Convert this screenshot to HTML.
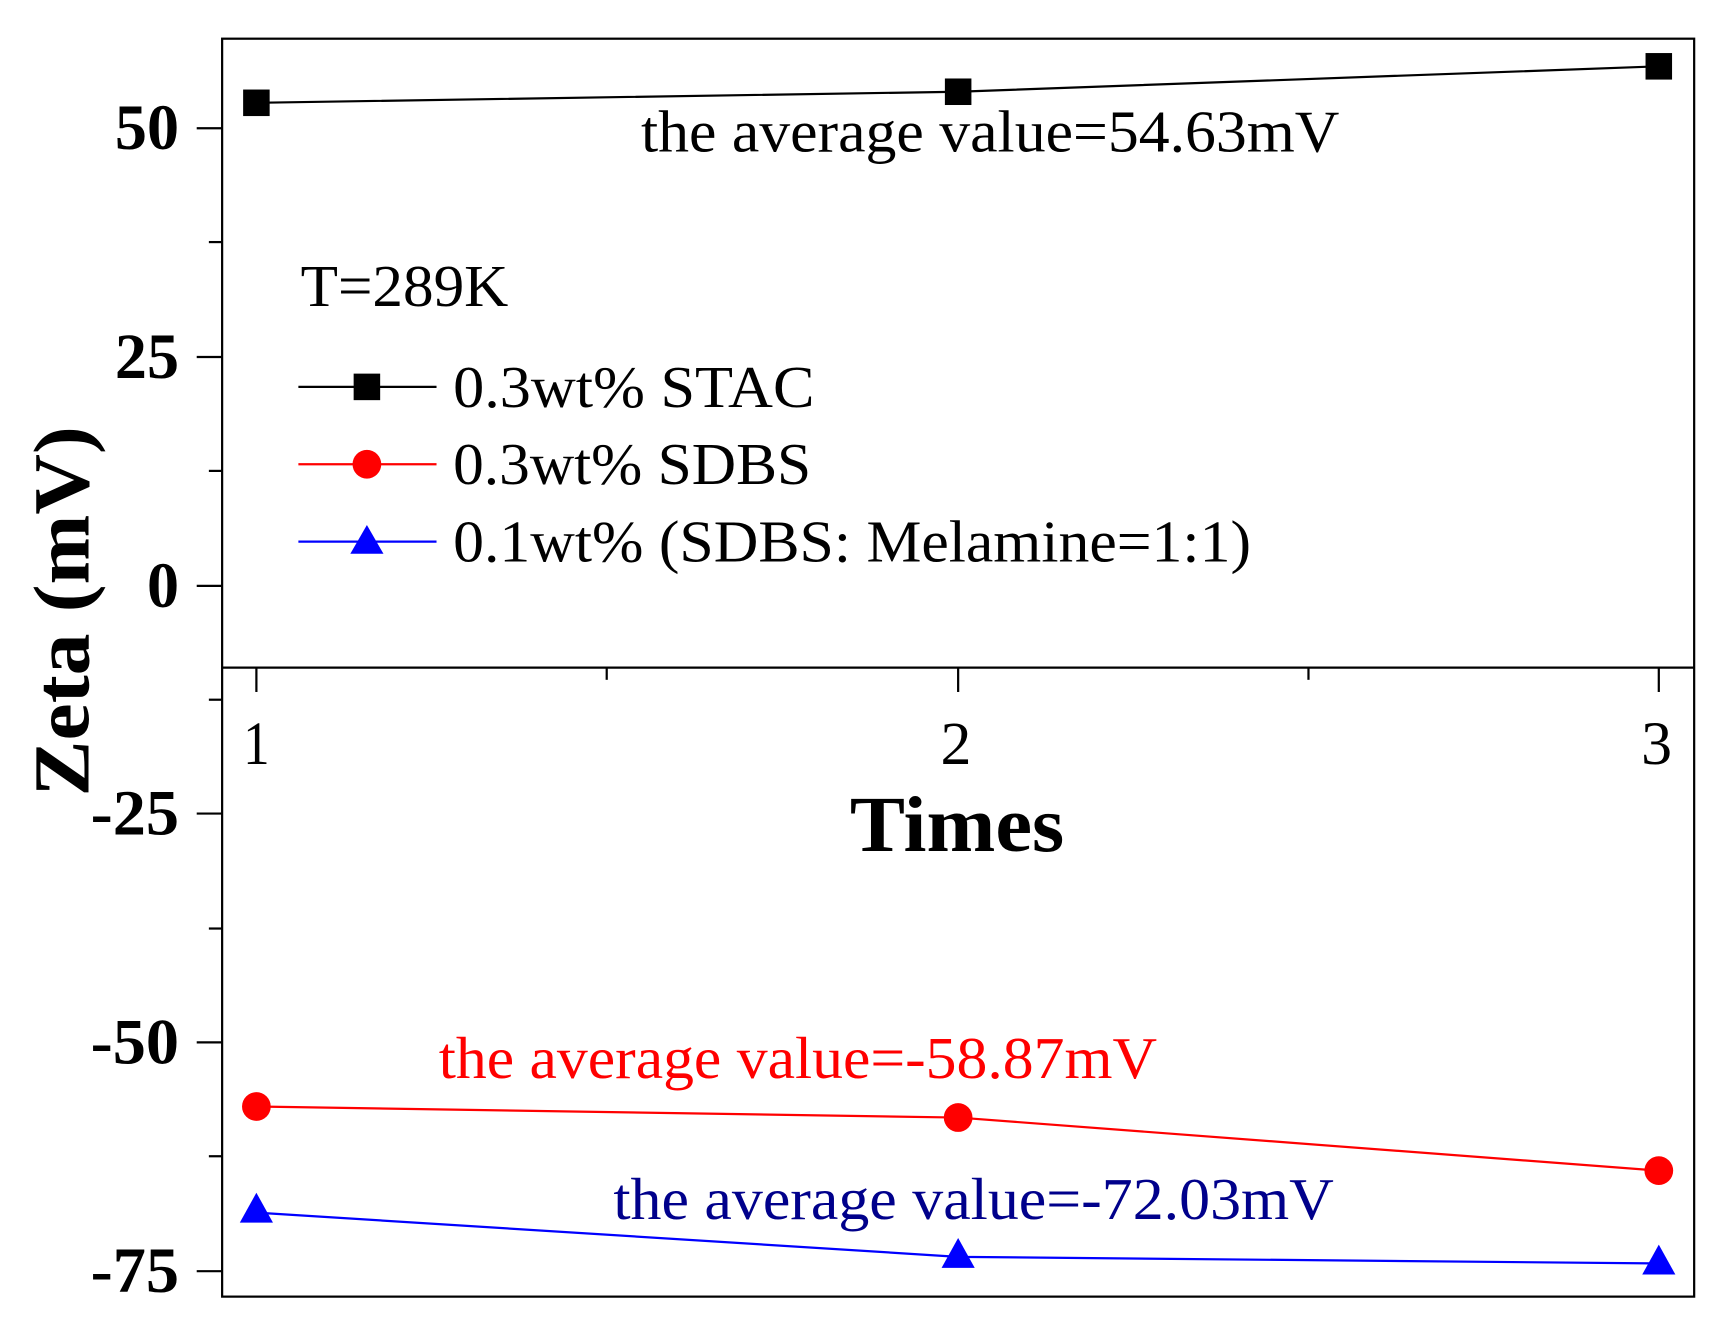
<!DOCTYPE html>
<html><head><style>html,body{margin:0;padding:0;background:#fff}svg{display:block}</style></head>
<body>
<svg width="1724" height="1332" viewBox="0 0 1560 1205" preserveAspectRatio="none" xmlns="http://www.w3.org/2000/svg" font-family="Liberation Serif, serif">
<rect x="0" y="0" width="1560" height="1205" fill="#fff"/>
<rect x="201" y="35" width="1332" height="1138" fill="none" stroke="#000" stroke-width="2"/>
<line x1="201" y1="604" x2="1533" y2="604" stroke="#000" stroke-width="2"/>
<g stroke="#000" stroke-width="2">
<line x1="178" y1="116" x2="201" y2="116"/><line x1="178" y1="323" x2="201" y2="323"/>
<line x1="178" y1="530" x2="201" y2="530"/><line x1="178" y1="736" x2="201" y2="736"/>
<line x1="178" y1="943" x2="201" y2="943"/><line x1="178" y1="1150" x2="201" y2="1150"/>
<line x1="189" y1="219" x2="201" y2="219"/><line x1="189" y1="426" x2="201" y2="426"/>
<line x1="189" y1="633" x2="201" y2="633"/><line x1="189" y1="840" x2="201" y2="840"/>
<line x1="189" y1="1046" x2="201" y2="1046"/>
<line x1="232" y1="604" x2="232" y2="626"/><line x1="867" y1="604" x2="867" y2="626"/><line x1="1501" y1="604" x2="1501" y2="626"/>
<line x1="549" y1="604" x2="549" y2="615"/><line x1="1184" y1="604" x2="1184" y2="615"/>
</g>
<g font-weight="bold" font-size="58" text-anchor="end">
<text x="162" y="135" textLength="58" lengthAdjust="spacingAndGlyphs">50</text>
<text x="162" y="342" textLength="58" lengthAdjust="spacingAndGlyphs">25</text>
<text x="162" y="549" textLength="29" lengthAdjust="spacingAndGlyphs">0</text>
<text x="162" y="755" textLength="80" lengthAdjust="spacingAndGlyphs">-25</text>
<text x="162" y="962" textLength="80" lengthAdjust="spacingAndGlyphs">-50</text>
<text x="162" y="1169" textLength="80" lengthAdjust="spacingAndGlyphs">-75</text>
</g>
<g font-size="56" text-anchor="middle">
<text x="232" y="691" textLength="24" lengthAdjust="spacingAndGlyphs">1</text>
<text x="865" y="691" textLength="28" lengthAdjust="spacingAndGlyphs">2</text>
<text x="1499" y="691" textLength="28" lengthAdjust="spacingAndGlyphs">3</text>
</g>
<text x="866" y="770" font-size="72" font-weight="bold" text-anchor="middle" textLength="194" lengthAdjust="spacingAndGlyphs">Times</text>
<text transform="translate(80,553) rotate(-90)" font-size="72" font-weight="bold" text-anchor="middle" textLength="335" lengthAdjust="spacingAndGlyphs">Zeta (mV)</text>
<polyline points="232,93 867,83 1501,60" fill="none" stroke="#000" stroke-width="2"/>
<g fill="#000"><rect x="220" y="81" width="24" height="24"/><rect x="855" y="71" width="24" height="24"/><rect x="1489" y="48" width="24" height="24"/></g>
<polyline points="232,1001 867,1011 1501,1059" fill="none" stroke="#f00" stroke-width="2"/>
<g fill="#f00"><circle cx="232" cy="1001" r="13"/><circle cx="867" cy="1011" r="13"/><circle cx="1501" cy="1059" r="13"/></g>
<polyline points="232,1097 867,1137 1501,1143" fill="none" stroke="#00f" stroke-width="2"/>
<g fill="#00f"><polygon points="232,1079 217,1106 247,1106"/><polygon points="867,1120 852,1147 882,1147"/><polygon points="1501,1126 1486,1153 1516,1153"/></g>
<g font-size="54">
<text x="580" y="137" textLength="632" lengthAdjust="spacingAndGlyphs">the average value=54.63mV</text>
<text x="397" y="975" fill="#f00" textLength="650" lengthAdjust="spacingAndGlyphs">the average value=-58.87mV</text>
<text x="555" y="1103" fill="#00008b" textLength="652" lengthAdjust="spacingAndGlyphs">the average value=-72.03mV</text>
<text x="272" y="277" textLength="188" lengthAdjust="spacingAndGlyphs">T=289K</text>
<text x="410" y="368" textLength="327" lengthAdjust="spacingAndGlyphs">0.3wt% STAC</text>
<text x="410" y="438" textLength="324" lengthAdjust="spacingAndGlyphs">0.3wt% SDBS</text>
<text x="410" y="508" textLength="722" lengthAdjust="spacingAndGlyphs">0.1wt% (SDBS: Melamine=1:1)</text>
</g>
<line x1="270" y1="350" x2="395" y2="350" stroke="#000" stroke-width="2"/><rect x="320" y="338" width="24" height="24" fill="#000"/>
<line x1="270" y1="420" x2="395" y2="420" stroke="#f00" stroke-width="2"/><circle cx="332" cy="420" r="13" fill="#f00"/>
<line x1="270" y1="490" x2="395" y2="490" stroke="#00f" stroke-width="2"/><polygon points="332,475 317,501 347,501" fill="#00f"/>
</svg>
</body></html>
